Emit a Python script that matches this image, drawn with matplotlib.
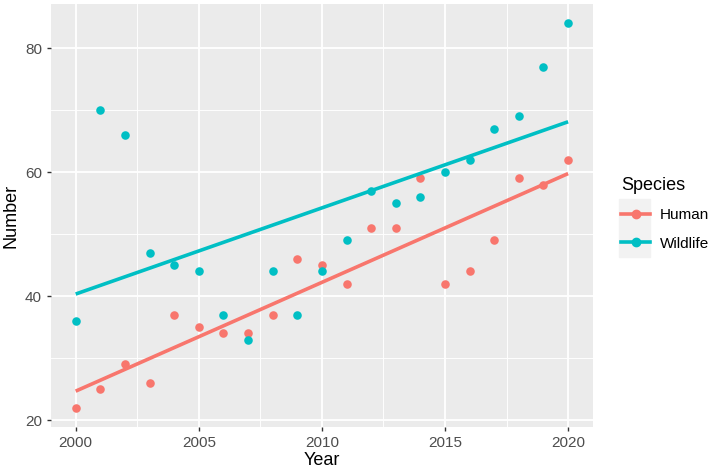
import numpy as np
import matplotlib.pyplot as plt
from matplotlib.lines import Line2D
from matplotlib.patches import Rectangle

plt.rcParams['font.family'] = ['Liberation Sans', 'DejaVu Sans']

years = list(range(2000, 2021))
human = [22, 25, 29, 26, 37, 35, 34, 34, 37, 46, 45, 42, 51, 51, 59, 42, 44, 49, 59, 58, 62]
wildlife = [36, 70, 66, 47, 45, 44, 37, 33, 44, 37, 44, 49, 57, 55, 56, 60, 62, 67, 69, 77, 84]
species = ['Human', 'Wildlife']
colors = ['#F8766D', '#00BFC4']

fig = plt.figure(figsize=(7.09, 4.72), dpi=100)
ax = fig.add_axes([0.072, 0.095, 0.764, 0.8965])
ax.set_facecolor('#EBEBEB')

x = np.array(years)
for name, vals, c in zip(species, [human, wildlife], colors):
    y = np.array(vals)
    ax.scatter(x, y, s=38, color=c, zorder=3, linewidths=0)
    # linear fit like geom_smooth(method='lm')
    b, a = np.polyfit(x, y, 1)
    ax.plot([x.min(), x.max()], [a + b * x.min(), a + b * x.max()], color=c, lw=2.6, zorder=4,
            solid_capstyle='butt')

ax.set_xlim(1999, 2021)
ax.set_ylim(18.9, 87.1)
ax.set_xticks([2000, 2005, 2010, 2015, 2020])
ax.set_yticks([20, 40, 60, 80])
ax.set_xticks([2002.5, 2007.5, 2012.5, 2017.5], minor=True)
ax.set_yticks([30, 50, 70], minor=True)
ax.grid(which='major', color='white', lw=1.3)
ax.grid(which='minor', color='white', lw=0.65)
ax.set_axisbelow(True)
for s in ax.spines.values():
    s.set_visible(False)
ax.tick_params(which='major', length=3, color='#333333', labelsize=11, labelcolor='#4D4D4D', width=1)
ax.tick_params(which='minor', length=0)
ax.set_xlabel('Year', fontsize=13, labelpad=1)
ax.set_ylabel('Number', fontsize=13, labelpad=4)

# legend key background like ggplot
fig.patches.append(Rectangle((619 / 709, 1 - 257 / 472), 31 / 709, 58 / 472,
                             transform=fig.transFigure, color='#F2F2F2', zorder=0))
handles = [Line2D([0], [0], color=c, lw=2.6, marker='o', markersize=6) for c in colors]
leg = fig.legend(handles, species, title='Species', loc='upper left', bbox_to_anchor=(0.857, 0.655),
                 frameon=False, fontsize=11, title_fontsize=13, handlelength=1.9,
                 handletextpad=0.6, labelspacing=0.95)
leg._legend_box.align = 'left'

fig.savefig('out.png', dpi=100)
